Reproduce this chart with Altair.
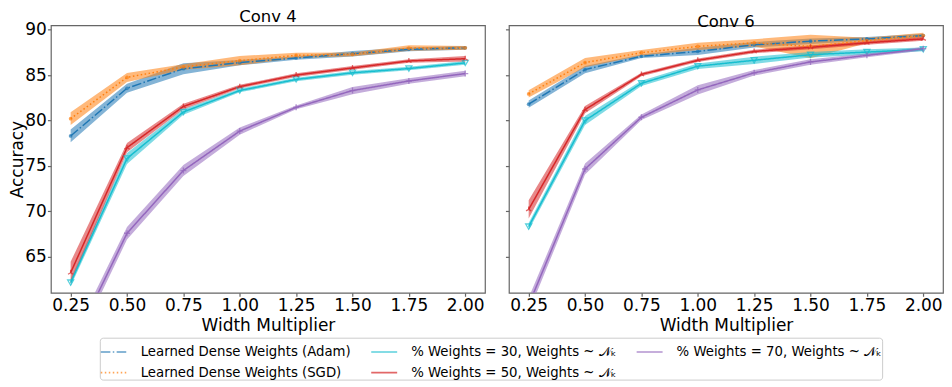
import altair as alt
import pandas as pd

widths = [0.25, 0.5, 0.75, 1.0, 1.25, 1.5, 1.75, 2.0]

series_names = [
    "Learned Dense Weights (Adam)",
    "% Weights = 30, Weights ~ 𝒩ₖ",
    "% Weights = 70, Weights ~ 𝒩ₖ",
    "Learned Dense Weights (SGD)",
    "% Weights = 50, Weights ~ 𝒩ₖ",
]
series_colors = ["#1f77b4", "#17becf", "#9467bd", "#ff7f0e", "#d62728"]
series_dashes = [[9.6, 2.4, 1.5, 2.4], [1, 0], [1, 0], [1.5, 2.5], [1, 0]]

# Conv 4
c4_adam = [78.3, 83.55, 85.7, 86.37, 86.88, 87.35, 87.83, 88.0]
c4_adam_sd = [0.7, 0.5, 0.6, 0.3, 0.2, 0.3, 0.2, 0.2]
c4_sgd = [80.2, 84.74, 85.9, 86.59, 87.17, 87.28, 87.97, 88.0]
c4_sgd_sd = [0.7, 0.5, 0.3, 0.5, 0.3, 0.2, 0.3, 0.2]
c4_w30 = [62.17, 75.83, 80.94, 83.3, 84.52, 85.25, 85.72, 86.34]
c4_w30_sd = [0.4, 0.6, 0.3, 0.2, 0.2, 0.2, 0.2, 0.2]
c4_w50 = [63.26, 77.02, 81.55, 83.73, 85.0, 85.79, 86.55, 86.8]
c4_w50_sd = [1.2, 0.5, 0.3, 0.2, 0.2, 0.2, 0.2, 0.3]
c4_w70 = [54.8, 67.6, 74.5, 78.84, 81.45, 83.3, 84.35, 85.17]
c4_w70_sd = [0.8, 0.7, 0.6, 0.4, 0.2, 0.4, 0.3, 0.3]

# Conv 6
c6_adam = [81.8, 85.6, 87.07, 87.6, 88.33, 88.73, 88.98, 89.35]
c6_adam_sd = [0.4, 0.4, 0.2, 0.4, 0.3, 0.3, 0.2, 0.2]
c6_sgd = [82.93, 86.37, 87.46, 88.15, 88.55, 88.15, 88.8, 89.35]
c6_sgd_sd = [0.4, 0.5, 0.3, 0.4, 0.4, 1.3, 0.3, 0.3]
c6_w30 = [68.33, 80.0, 84.09, 85.98, 86.63, 87.24, 87.53, 87.83]
c6_w30_sd = [0.4, 0.5, 0.3, 0.3, 0.4, 0.3, 0.3, 0.2]
c6_w50 = [70.22, 81.2, 85.07, 86.63, 87.6, 88.05, 88.55, 88.98]
c6_w50_sd = [1.0, 0.4, 0.2, 0.2, 0.2, 0.2, 0.2, 0.2]
c6_w70 = [59.7, 74.67, 80.36, 83.37, 85.25, 86.45, 87.17, 87.9]
c6_w70_sd = [0.8, 0.6, 0.3, 0.5, 0.3, 0.3, 0.2, 0.2]

y_ticks = [65, 70, 75, 80, 85, 90]
FONT = "DejaVu Sans"


def make_df(groups):
    rows = []
    for name, means, sds in groups:
        for x, m, s in zip(widths, means, sds):
            rows.append({"width": x, "acc": m, "lo": m - s, "hi": m + s, "series": name})
    return pd.DataFrame(rows)


df4 = make_df([
    (series_names[0], c4_adam, c4_adam_sd),
    (series_names[3], c4_sgd, c4_sgd_sd),
    (series_names[1], c4_w30, c4_w30_sd),
    (series_names[4], c4_w50, c4_w50_sd),
    (series_names[2], c4_w70, c4_w70_sd),
])
df6 = make_df([
    (series_names[0], c6_adam, c6_adam_sd),
    (series_names[3], c6_sgd, c6_sgd_sd),
    (series_names[1], c6_w30, c6_w30_sd),
    (series_names[4], c6_w50, c6_w50_sd),
    (series_names[2], c6_w70, c6_w70_sd),
])

color_scale = alt.Scale(domain=series_names, range=series_colors)
dash_scale = alt.Scale(domain=series_names, range=series_dashes)
x_scale = alt.Scale(domain=[0.1625, 2.0875], nice=False, zero=False)
y_scale = alt.Scale(domain=[61.05, 90.47], nice=False, zero=False)

x_axis = alt.Axis(values=widths, format=".2f", title="Width Multiplier", grid=False,
                  labelFontSize=17, titleFontSize=17, tickSize=3.5, labelPadding=1,
                  titlePadding=4, domain=False, labelFlush=False)

legend = alt.Legend(title=None, orient="none", legendX=49, legendY=313, direction="horizontal",
                    columns=3, symbolType="stroke", symbolSize=676, symbolStrokeWidth=1.6,
                    labelFontSize=13.3, labelOffset=13, columnPadding=16, rowPadding=-8.2,
                    padding=0, strokeColor="#cccccc", fillColor="white", cornerRadius=3,
                    labelLimit=400, labelFont=FONT, symbolOpacity=1)

plus_path = "M-1,0L1,0M0,-1L0,1"
triup_path = "M0,0L0,-1M0,0L-0.87,0.5M0,0L0.87,0.5"


def panel(df, title, left):
    if left:
        y_axis = alt.Axis(values=y_ticks, title="Accuracy", grid=False, labelFontSize=17,
                          titleFontSize=17, tickSize=3.5, labelPadding=1, titlePadding=-2,
                          domain=False)
    else:
        y_axis = alt.Axis(values=y_ticks, title=None, labels=False, grid=False, tickSize=3.5,
                          domain=False)
    base = alt.Chart(df)
    x = alt.X("width:Q", scale=x_scale, axis=x_axis)
    color = alt.Color("series:N", scale=color_scale)
    band = base.mark_area(fillOpacity=0.55, clip=True).encode(
        x=x,
        y=alt.Y("lo:Q", scale=y_scale, axis=y_axis),
        y2="hi:Q",
        color=color,
        detail="series:N",
    )
    line = base.mark_line(strokeWidth=1.5, clip=True).encode(
        x=x,
        y=alt.Y("acc:Q", scale=y_scale, axis=y_axis),
        color=alt.Color("series:N", scale=color_scale, legend=legend),
        strokeDash=alt.StrokeDash("series:N", scale=dash_scale, legend=legend),
    )
    dots = base.mark_point(filled=True, size=14, clip=True).transform_filter(
        alt.FieldOneOfPredicate(field="series", oneOf=[series_names[0], series_names[3]])
    ).encode(
        x=x,
        y=alt.Y("acc:Q", scale=y_scale, axis=y_axis),
        color=color,
    )
    marks = base.mark_point(filled=False, size=36, strokeWidth=1.3, clip=True).transform_filter(
        alt.FieldOneOfPredicate(field="series", oneOf=[series_names[1], series_names[2], series_names[4]])
    ).encode(
        x=x,
        y=alt.Y("acc:Q", scale=y_scale, axis=y_axis),
        color=color,
        shape=alt.Shape("series:N", scale=alt.Scale(
            domain=[series_names[1], series_names[2], series_names[4]],
            range=["triangle-down", plus_path, triup_path]), legend=None),
    )
    return alt.layer(band, line, dots, marks).properties(
        width=435, height=268,
        title=alt.TitleParams(title, fontSize=16.5, fontWeight="normal", font=FONT,
                              frame="group", anchor="middle", offset=-5),
    )


chart = alt.hconcat(panel(df4, "Conv 4", True), panel(df6, "Conv 6", False), spacing=18).resolve_scale(
    color="shared", strokeDash="shared"
).properties(padding=0).configure(font=FONT).configure_view(
    stroke="#666666", strokeWidth=1.2
).configure_axis(
    tickColor="#666666", tickWidth=1.2, labelColor="black", titleColor="black",
    labelFont=FONT, titleFont=FONT, titleFontWeight="normal"
)

chart.save("out.html", embed_options={"renderer": "svg", "actions": False})
